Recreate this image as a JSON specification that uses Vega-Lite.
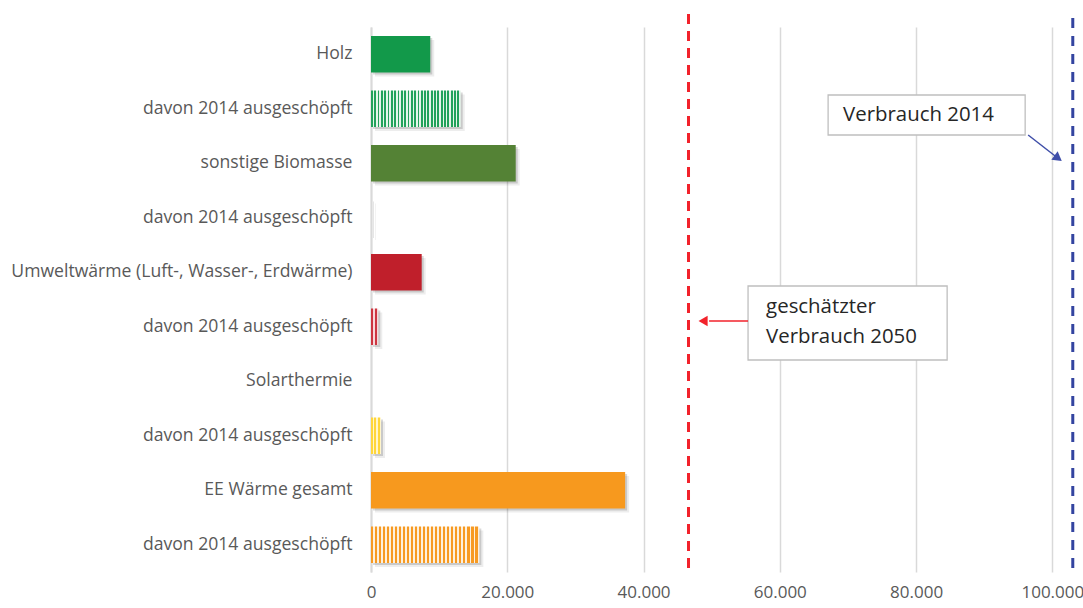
{
  "$schema": "https://vega.github.io/schema/vega-lite/v6.json",
  "width": 712,
  "height": 545,
  "autosize": "none",
  "padding": {"left": 371, "top": 27, "right": 0, "bottom": 36},
  "background": "white",
  "config": {"view": {"stroke": null}, "font": "Open Sans"},
  "datasets": {
    "bars": [
      {"key": "01|Holz", "value": 8700},
      {"key": "02|davon 2014 ausgeschöpft", "value": 13170},
      {"key": "03|sonstige Biomasse", "value": 21240},
      {"key": "04|davon 2014 ausgeschöpft", "value": 100},
      {"key": "05|Umweltwärme (Luft-, Wasser-, Erdwärme)", "value": 7440},
      {"key": "06|davon 2014 ausgeschöpft", "value": 1070},
      {"key": "07|Solarthermie", "value": 0},
      {"key": "08|davon 2014 ausgeschöpft", "value": 1470},
      {"key": "09|EE Wärme gesamt", "value": 37300},
      {"key": "10|davon 2014 ausgeschöpft", "value": 15900}
    ],
    "lines": [
      {"name": "geschätzter Verbrauch 2050", "value": 46600},
      {"name": "Verbrauch 2014", "value": 103000}
    ],
    "boxes": [
      {"id": "b2014", "key": "02|davon 2014 ausgeschöpft", "x1": 67090, "x2": 96010, "tx": 69290, "label": "Verbrauch 2014"},
      {"id": "b2050", "key": "06|davon 2014 ausgeschöpft", "x1": 55340, "x2": 84560, "tx": 57990, "label": "geschätzter\nVerbrauch 2050"}
    ],
    "arrows": [
      {"id": "a2014", "key": "02|davon 2014 ausgeschöpft", "x1": 96450, "x2": 100410, "xh": 100850},
      {"id": "a2050", "key": "06|davon 2014 ausgeschöpft", "x1": 55340, "x2": 49620, "xh": 48740}
    ]
  },
  "layer": [
    {
      "data": {"name": "bars"},
      "mark": {"type": "bar", "color": "#000000", "opacity": 0.07, "xOffset": 4, "x2Offset": 4, "yOffset": 4},
      "encoding": {
        "y": {
          "field": "key", "type": "nominal", "sort": "ascending",
          "scale": {"paddingInner": 0.33, "paddingOuter": 0.165},
          "axis": {
            "title": null, "ticks": false, "domain": true, "domainColor": "#d9d9d9", "domainWidth": 2,
            "labelColor": "#595959", "labelFontSize": 17.6, "labelPadding": 19, "labelLimit": 400,
            "labelExpr": "split(datum.value, '|')[1]"
          }
        },
        "x": {
          "field": "value", "type": "quantitative",
          "scale": {"domain": [0, 104500], "nice": false, "zero": true},
          "axis": {
            "title": null, "ticks": false, "domain": false, "grid": true, "gridColor": "#d9d9d9", "gridWidth": 1.5,
            "values": [0, 20000, 40000, 60000, 80000, 100000], "labelFlush": false, "labelOverlap": false,
            "labelColor": "#595959", "labelFontSize": 17, "labelPadding": 12,
            "labelExpr": "replace(format(datum.value, ','), ',', '.')"
          }
        }
      }
    },
    {
      "data": {"name": "bars"},
      "mark": {"type": "bar", "color": "#000000", "opacity": 0.15, "xOffset": 2, "x2Offset": 2, "yOffset": 2},
      "encoding": {
        "y": {"field": "key", "type": "nominal"},
        "x": {"field": "value", "type": "quantitative"}
      }
    },
    {
      "data": {"name": "bars"},
      "transform": [{"filter": {"field": "key", "oneOf": ["01|Holz", "03|sonstige Biomasse", "05|Umweltwärme (Luft-, Wasser-, Erdwärme)", "07|Solarthermie", "09|EE Wärme gesamt"]}}],
      "mark": {"type": "bar"},
      "encoding": {
        "y": {"field": "key", "type": "nominal"},
        "x": {"field": "value", "type": "quantitative"},
        "color": {
          "field": "key", "type": "nominal", "legend": null,
          "scale": {
            "domain": ["01|Holz", "03|sonstige Biomasse", "05|Umweltwärme (Luft-, Wasser-, Erdwärme)", "07|Solarthermie", "09|EE Wärme gesamt"],
            "range": ["#12994a", "#548235", "#c01f2b", "#ffd43b", "#f7991e"]
          }
        }
      }
    },
    {
      "data": {"name": "bars"},
      "transform": [{"filter": "datum.key == '02|davon 2014 ausgeschöpft'"}],
      "mark": {"type": "bar", "fill": {"gradient": "linear", "x1": 0, "x2": 1, "y1": 0, "y2": 0, "stops": [
        {"offset": 0, "color": "#22a25b"}, {"offset": 0.0204, "color": "#22a25b"}, {"offset": 0.0204, "color": "#e6f5eb"}, {"offset": 0.0370, "color": "#e6f5eb"},
        {"offset": 0.0370, "color": "#22a25b"}, {"offset": 0.0574, "color": "#22a25b"}, {"offset": 0.0574, "color": "#e6f5eb"}, {"offset": 0.0741, "color": "#e6f5eb"},
        {"offset": 0.0741, "color": "#22a25b"}, {"offset": 0.0945, "color": "#22a25b"}, {"offset": 0.0945, "color": "#e6f5eb"}, {"offset": 0.1111, "color": "#e6f5eb"},
        {"offset": 0.1111, "color": "#22a25b"}, {"offset": 0.1315, "color": "#22a25b"}, {"offset": 0.1315, "color": "#e6f5eb"}, {"offset": 0.1481, "color": "#e6f5eb"},
        {"offset": 0.1481, "color": "#22a25b"}, {"offset": 0.1685, "color": "#22a25b"}, {"offset": 0.1685, "color": "#e6f5eb"}, {"offset": 0.1852, "color": "#e6f5eb"},
        {"offset": 0.1852, "color": "#22a25b"}, {"offset": 0.2056, "color": "#22a25b"}, {"offset": 0.2056, "color": "#e6f5eb"}, {"offset": 0.2222, "color": "#e6f5eb"},
        {"offset": 0.2222, "color": "#22a25b"}, {"offset": 0.2426, "color": "#22a25b"}, {"offset": 0.2426, "color": "#e6f5eb"}, {"offset": 0.2593, "color": "#e6f5eb"},
        {"offset": 0.2593, "color": "#22a25b"}, {"offset": 0.2797, "color": "#22a25b"}, {"offset": 0.2797, "color": "#e6f5eb"}, {"offset": 0.2963, "color": "#e6f5eb"},
        {"offset": 0.2963, "color": "#22a25b"}, {"offset": 0.3167, "color": "#22a25b"}, {"offset": 0.3167, "color": "#e6f5eb"}, {"offset": 0.3333, "color": "#e6f5eb"},
        {"offset": 0.3333, "color": "#22a25b"}, {"offset": 0.3537, "color": "#22a25b"}, {"offset": 0.3537, "color": "#e6f5eb"}, {"offset": 0.3704, "color": "#e6f5eb"},
        {"offset": 0.3704, "color": "#22a25b"}, {"offset": 0.3908, "color": "#22a25b"}, {"offset": 0.3908, "color": "#e6f5eb"}, {"offset": 0.4074, "color": "#e6f5eb"},
        {"offset": 0.4074, "color": "#22a25b"}, {"offset": 0.4278, "color": "#22a25b"}, {"offset": 0.4278, "color": "#e6f5eb"}, {"offset": 0.4444, "color": "#e6f5eb"},
        {"offset": 0.4444, "color": "#22a25b"}, {"offset": 0.4648, "color": "#22a25b"}, {"offset": 0.4648, "color": "#e6f5eb"}, {"offset": 0.4815, "color": "#e6f5eb"},
        {"offset": 0.4815, "color": "#22a25b"}, {"offset": 0.5019, "color": "#22a25b"}, {"offset": 0.5019, "color": "#e6f5eb"}, {"offset": 0.5185, "color": "#e6f5eb"},
        {"offset": 0.5185, "color": "#22a25b"}, {"offset": 0.5389, "color": "#22a25b"}, {"offset": 0.5389, "color": "#e6f5eb"}, {"offset": 0.5556, "color": "#e6f5eb"},
        {"offset": 0.5556, "color": "#22a25b"}, {"offset": 0.5760, "color": "#22a25b"}, {"offset": 0.5760, "color": "#e6f5eb"}, {"offset": 0.5926, "color": "#e6f5eb"},
        {"offset": 0.5926, "color": "#22a25b"}, {"offset": 0.6130, "color": "#22a25b"}, {"offset": 0.6130, "color": "#e6f5eb"}, {"offset": 0.6296, "color": "#e6f5eb"},
        {"offset": 0.6296, "color": "#22a25b"}, {"offset": 0.6500, "color": "#22a25b"}, {"offset": 0.6500, "color": "#e6f5eb"}, {"offset": 0.6667, "color": "#e6f5eb"},
        {"offset": 0.6667, "color": "#22a25b"}, {"offset": 0.6871, "color": "#22a25b"}, {"offset": 0.6871, "color": "#e6f5eb"}, {"offset": 0.7037, "color": "#e6f5eb"},
        {"offset": 0.7037, "color": "#22a25b"}, {"offset": 0.7241, "color": "#22a25b"}, {"offset": 0.7241, "color": "#e6f5eb"}, {"offset": 0.7407, "color": "#e6f5eb"},
        {"offset": 0.7407, "color": "#22a25b"}, {"offset": 0.7611, "color": "#22a25b"}, {"offset": 0.7611, "color": "#e6f5eb"}, {"offset": 0.7778, "color": "#e6f5eb"},
        {"offset": 0.7778, "color": "#22a25b"}, {"offset": 0.7982, "color": "#22a25b"}, {"offset": 0.7982, "color": "#e6f5eb"}, {"offset": 0.8148, "color": "#e6f5eb"},
        {"offset": 0.8148, "color": "#22a25b"}, {"offset": 0.8352, "color": "#22a25b"}, {"offset": 0.8352, "color": "#e6f5eb"}, {"offset": 0.8519, "color": "#e6f5eb"},
        {"offset": 0.8519, "color": "#22a25b"}, {"offset": 0.8723, "color": "#22a25b"}, {"offset": 0.8723, "color": "#e6f5eb"}, {"offset": 0.8889, "color": "#e6f5eb"},
        {"offset": 0.8889, "color": "#22a25b"}, {"offset": 0.9093, "color": "#22a25b"}, {"offset": 0.9093, "color": "#e6f5eb"}, {"offset": 0.9259, "color": "#e6f5eb"},
        {"offset": 0.9259, "color": "#22a25b"}, {"offset": 0.9463, "color": "#22a25b"}, {"offset": 0.9463, "color": "#e6f5eb"}, {"offset": 0.9630, "color": "#e6f5eb"},
        {"offset": 0.9630, "color": "#22a25b"}, {"offset": 0.9834, "color": "#22a25b"}, {"offset": 0.9834, "color": "#e6f5eb"}, {"offset": 1, "color": "#e6f5eb"}
      ]}},
      "encoding": {
        "y": {"field": "key", "type": "nominal"},
        "x": {"field": "value", "type": "quantitative"}
      }
    },
    {
      "data": {"name": "bars"},
      "transform": [{"filter": "datum.key == '10|davon 2014 ausgeschöpft'"}],
      "mark": {"type": "bar", "fill": {"gradient": "linear", "x1": 0, "x2": 1, "y1": 0, "y2": 0, "stops": [
        {"offset": 0, "color": "#f79a22"}, {"offset": 0.0204, "color": "#f79a22"}, {"offset": 0.0204, "color": "#fdf0dd"}, {"offset": 0.0370, "color": "#fdf0dd"},
        {"offset": 0.0370, "color": "#f79a22"}, {"offset": 0.0574, "color": "#f79a22"}, {"offset": 0.0574, "color": "#fdf0dd"}, {"offset": 0.0741, "color": "#fdf0dd"},
        {"offset": 0.0741, "color": "#f79a22"}, {"offset": 0.0945, "color": "#f79a22"}, {"offset": 0.0945, "color": "#fdf0dd"}, {"offset": 0.1111, "color": "#fdf0dd"},
        {"offset": 0.1111, "color": "#f79a22"}, {"offset": 0.1315, "color": "#f79a22"}, {"offset": 0.1315, "color": "#fdf0dd"}, {"offset": 0.1481, "color": "#fdf0dd"},
        {"offset": 0.1481, "color": "#f79a22"}, {"offset": 0.1685, "color": "#f79a22"}, {"offset": 0.1685, "color": "#fdf0dd"}, {"offset": 0.1852, "color": "#fdf0dd"},
        {"offset": 0.1852, "color": "#f79a22"}, {"offset": 0.2056, "color": "#f79a22"}, {"offset": 0.2056, "color": "#fdf0dd"}, {"offset": 0.2222, "color": "#fdf0dd"},
        {"offset": 0.2222, "color": "#f79a22"}, {"offset": 0.2426, "color": "#f79a22"}, {"offset": 0.2426, "color": "#fdf0dd"}, {"offset": 0.2593, "color": "#fdf0dd"},
        {"offset": 0.2593, "color": "#f79a22"}, {"offset": 0.2797, "color": "#f79a22"}, {"offset": 0.2797, "color": "#fdf0dd"}, {"offset": 0.2963, "color": "#fdf0dd"},
        {"offset": 0.2963, "color": "#f79a22"}, {"offset": 0.3167, "color": "#f79a22"}, {"offset": 0.3167, "color": "#fdf0dd"}, {"offset": 0.3333, "color": "#fdf0dd"},
        {"offset": 0.3333, "color": "#f79a22"}, {"offset": 0.3537, "color": "#f79a22"}, {"offset": 0.3537, "color": "#fdf0dd"}, {"offset": 0.3704, "color": "#fdf0dd"},
        {"offset": 0.3704, "color": "#f79a22"}, {"offset": 0.3908, "color": "#f79a22"}, {"offset": 0.3908, "color": "#fdf0dd"}, {"offset": 0.4074, "color": "#fdf0dd"},
        {"offset": 0.4074, "color": "#f79a22"}, {"offset": 0.4278, "color": "#f79a22"}, {"offset": 0.4278, "color": "#fdf0dd"}, {"offset": 0.4444, "color": "#fdf0dd"},
        {"offset": 0.4444, "color": "#f79a22"}, {"offset": 0.4648, "color": "#f79a22"}, {"offset": 0.4648, "color": "#fdf0dd"}, {"offset": 0.4815, "color": "#fdf0dd"},
        {"offset": 0.4815, "color": "#f79a22"}, {"offset": 0.5019, "color": "#f79a22"}, {"offset": 0.5019, "color": "#fdf0dd"}, {"offset": 0.5185, "color": "#fdf0dd"},
        {"offset": 0.5185, "color": "#f79a22"}, {"offset": 0.5389, "color": "#f79a22"}, {"offset": 0.5389, "color": "#fdf0dd"}, {"offset": 0.5556, "color": "#fdf0dd"},
        {"offset": 0.5556, "color": "#f79a22"}, {"offset": 0.5760, "color": "#f79a22"}, {"offset": 0.5760, "color": "#fdf0dd"}, {"offset": 0.5926, "color": "#fdf0dd"},
        {"offset": 0.5926, "color": "#f79a22"}, {"offset": 0.6130, "color": "#f79a22"}, {"offset": 0.6130, "color": "#fdf0dd"}, {"offset": 0.6296, "color": "#fdf0dd"},
        {"offset": 0.6296, "color": "#f79a22"}, {"offset": 0.6500, "color": "#f79a22"}, {"offset": 0.6500, "color": "#fdf0dd"}, {"offset": 0.6667, "color": "#fdf0dd"},
        {"offset": 0.6667, "color": "#f79a22"}, {"offset": 0.6871, "color": "#f79a22"}, {"offset": 0.6871, "color": "#fdf0dd"}, {"offset": 0.7037, "color": "#fdf0dd"},
        {"offset": 0.7037, "color": "#f79a22"}, {"offset": 0.7241, "color": "#f79a22"}, {"offset": 0.7241, "color": "#fdf0dd"}, {"offset": 0.7407, "color": "#fdf0dd"},
        {"offset": 0.7407, "color": "#f79a22"}, {"offset": 0.7611, "color": "#f79a22"}, {"offset": 0.7611, "color": "#fdf0dd"}, {"offset": 0.7778, "color": "#fdf0dd"},
        {"offset": 0.7778, "color": "#f79a22"}, {"offset": 0.7982, "color": "#f79a22"}, {"offset": 0.7982, "color": "#fdf0dd"}, {"offset": 0.8148, "color": "#fdf0dd"},
        {"offset": 0.8148, "color": "#f79a22"}, {"offset": 0.8352, "color": "#f79a22"}, {"offset": 0.8352, "color": "#fdf0dd"}, {"offset": 0.8519, "color": "#fdf0dd"},
        {"offset": 0.8519, "color": "#f79a22"}, {"offset": 0.8723, "color": "#f79a22"}, {"offset": 0.8723, "color": "#fdf0dd"}, {"offset": 0.8889, "color": "#fdf0dd"},
        {"offset": 0.8889, "color": "#f79a22"}, {"offset": 0.9093, "color": "#f79a22"}, {"offset": 0.9093, "color": "#fdf0dd"}, {"offset": 0.9259, "color": "#fdf0dd"},
        {"offset": 0.9259, "color": "#f79a22"}, {"offset": 0.9463, "color": "#f79a22"}, {"offset": 0.9463, "color": "#fdf0dd"}, {"offset": 0.9630, "color": "#fdf0dd"},
        {"offset": 0.9630, "color": "#f79a22"}, {"offset": 0.9834, "color": "#f79a22"}, {"offset": 0.9834, "color": "#fdf0dd"}, {"offset": 1, "color": "#fdf0dd"}
      ]}},
      "encoding": {
        "y": {"field": "key", "type": "nominal"},
        "x": {"field": "value", "type": "quantitative"}
      }
    },
    {
      "data": {"name": "bars"},
      "transform": [{"filter": "datum.key == '06|davon 2014 ausgeschöpft'"}],
      "mark": {"type": "bar", "fill": {"gradient": "linear", "x1": 0, "x2": 1, "y1": 0, "y2": 0, "stops": [
        {"offset": 0, "color": "#cc3540"}, {"offset": 0.3, "color": "#cc3540"}, {"offset": 0.3, "color": "#f6d6d8"}, {"offset": 0.5, "color": "#f6d6d8"},
        {"offset": 0.5, "color": "#cc3540"}, {"offset": 0.8, "color": "#cc3540"}, {"offset": 0.8, "color": "#f6d6d8"}, {"offset": 1, "color": "#f6d6d8"}
      ]}},
      "encoding": {
        "y": {"field": "key", "type": "nominal"},
        "x": {"field": "value", "type": "quantitative"}
      }
    },
    {
      "data": {"name": "bars"},
      "transform": [{"filter": "datum.key == '08|davon 2014 ausgeschöpft'"}],
      "mark": {"type": "bar", "fill": {"gradient": "linear", "x1": 0, "x2": 1, "y1": 0, "y2": 0, "stops": [
        {"offset": 0, "color": "#ffd63a"}, {"offset": 0.19, "color": "#ffd63a"}, {"offset": 0.19, "color": "#fff5cc"}, {"offset": 0.333, "color": "#fff5cc"},
        {"offset": 0.333, "color": "#ffd63a"}, {"offset": 0.52, "color": "#ffd63a"}, {"offset": 0.52, "color": "#fff5cc"}, {"offset": 0.667, "color": "#fff5cc"},
        {"offset": 0.667, "color": "#ffd63a"}, {"offset": 0.85, "color": "#ffd63a"}, {"offset": 0.85, "color": "#fff5cc"}, {"offset": 1, "color": "#fff5cc"}
      ]}},
      "encoding": {
        "y": {"field": "key", "type": "nominal"},
        "x": {"field": "value", "type": "quantitative"}
      }
    },
    {
      "data": {"name": "lines"},
      "transform": [{"filter": "datum.name == 'geschätzter Verbrauch 2050'"}],
      "mark": {"type": "rule", "color": "#f2222b", "strokeWidth": 3, "strokeDash": [10, 7], "yOffset": -13, "y2Offset": -3},
      "encoding": {"x": {"field": "value", "type": "quantitative"}}
    },
    {
      "data": {"name": "lines"},
      "transform": [{"filter": "datum.name == 'Verbrauch 2014'"}],
      "mark": {"type": "rule", "color": "#3344a0", "strokeWidth": 3, "strokeDash": [10, 8], "yOffset": -9, "y2Offset": 0},
      "encoding": {"x": {"field": "value", "type": "quantitative"}}
    },
    {
      "data": {"name": "boxes"},
      "transform": [{"filter": "datum.id == 'b2014'"}],
      "mark": {"type": "bar", "size": 40, "yOffset": 6.25, "fill": "white", "stroke": "#bfbfbf", "strokeWidth": 1.3},
      "encoding": {
        "y": {"field": "key", "type": "nominal"},
        "x": {"field": "x1", "type": "quantitative"},
        "x2": {"field": "x2"}
      }
    },
    {
      "data": {"name": "boxes"},
      "transform": [{"filter": "datum.id == 'b2050'"}],
      "mark": {"type": "bar", "size": 74, "yOffset": -3.75, "fill": "white", "stroke": "#bfbfbf", "strokeWidth": 1.3},
      "encoding": {
        "y": {"field": "key", "type": "nominal"},
        "x": {"field": "x1", "type": "quantitative"},
        "x2": {"field": "x2"}
      }
    },
    {
      "data": {"name": "boxes"},
      "transform": [{"filter": "datum.id == 'b2014'"}],
      "mark": {"type": "text", "align": "left", "baseline": "middle", "fontSize": 20.4, "color": "#262626", "yOffset": 6},
      "encoding": {
        "y": {"field": "key", "type": "nominal"},
        "x": {"field": "tx", "type": "quantitative"},
        "text": {"field": "label"}
      }
    },
    {
      "data": {"name": "boxes"},
      "transform": [{"filter": "datum.id == 'b2050'"}],
      "mark": {"type": "text", "align": "left", "baseline": "middle", "fontSize": 20.4, "color": "#262626", "yOffset": -19.5, "lineBreak": "\n", "lineHeight": 30},
      "encoding": {
        "y": {"field": "key", "type": "nominal"},
        "x": {"field": "tx", "type": "quantitative"},
        "text": {"field": "label"}
      }
    },
    {
      "data": {"name": "arrows"},
      "transform": [{"filter": "datum.id == 'a2014'"}],
      "mark": {"type": "rule", "color": "#3f4ea8", "strokeWidth": 1.5, "yOffset": 26.25, "y2Offset": 47.25},
      "encoding": {
        "y": {"field": "key", "type": "nominal"},
        "y2": {"field": "key"},
        "x": {"field": "x1", "type": "quantitative"},
        "x2": {"field": "x2"}
      }
    },
    {
      "data": {"name": "arrows"},
      "transform": [{"filter": "datum.id == 'a2014'"}],
      "mark": {"type": "point", "shape": "triangle-right", "filled": true, "opacity": 1, "color": "#3f4ea8", "size": 110, "angle": 37, "yOffset": 49.5},
      "encoding": {
        "y": {"field": "key", "type": "nominal"},
        "x": {"field": "xh", "type": "quantitative"}
      }
    },
    {
      "data": {"name": "arrows"},
      "transform": [{"filter": "datum.id == 'a2050'"}],
      "mark": {"type": "rule", "color": "#f2222b", "strokeWidth": 1.5, "yOffset": -5.75, "y2Offset": -5.75},
      "encoding": {
        "y": {"field": "key", "type": "nominal"},
        "y2": {"field": "key"},
        "x": {"field": "x1", "type": "quantitative"},
        "x2": {"field": "x2"}
      }
    },
    {
      "data": {"name": "arrows"},
      "transform": [{"filter": "datum.id == 'a2050'"}],
      "mark": {"type": "point", "shape": "triangle-left", "filled": true, "opacity": 1, "color": "#f2222b", "size": 110, "yOffset": -5.75},
      "encoding": {
        "y": {"field": "key", "type": "nominal"},
        "x": {"field": "xh", "type": "quantitative"}
      }
    }
  ]
}
